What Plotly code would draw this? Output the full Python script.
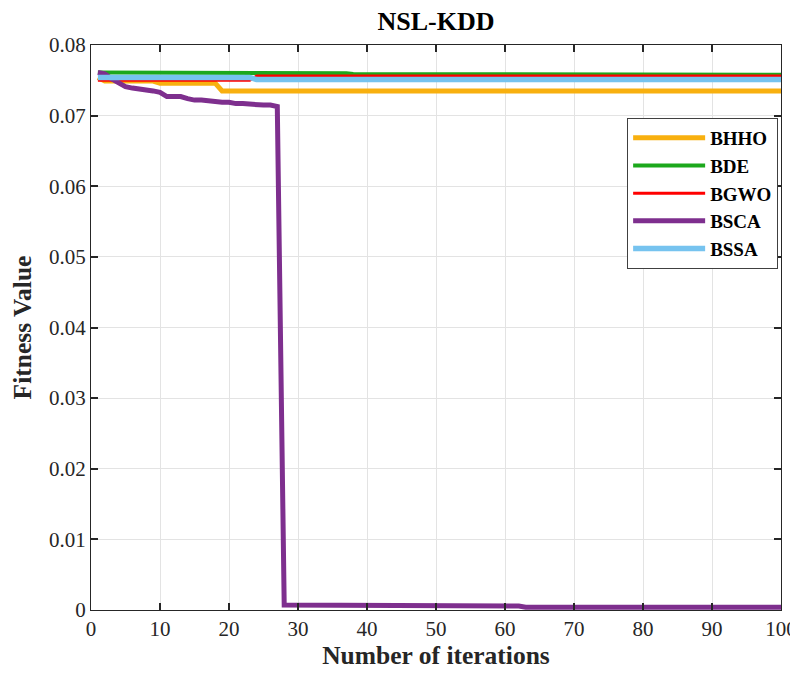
import plotly.graph_objects as go

iterations = list(range(1, 101))

bhho = [0.0754, 0.0749, 0.0749, 0.0749, 0.0749, 0.0749, 0.0749, 0.0749, 0.0749, 0.0746,
        0.0746, 0.0746, 0.0746, 0.0746, 0.0746, 0.0746, 0.0746, 0.0746, 0.0735, 0.0735,
        0.0735, 0.0735, 0.0735, 0.0735, 0.0735, 0.0735, 0.0735, 0.0735, 0.0735, 0.0735,
        0.0735, 0.0735, 0.0735, 0.0735, 0.0735, 0.0735, 0.0735, 0.0735, 0.0735, 0.0735,
        0.0735, 0.0735, 0.0735, 0.0735, 0.0735, 0.0735, 0.0735, 0.0735, 0.0735, 0.0735,
        0.0735, 0.0735, 0.0735, 0.0735, 0.0735, 0.0735, 0.0735, 0.0735, 0.0735, 0.0735,
        0.0735, 0.0735, 0.0735, 0.0735, 0.0735, 0.0735, 0.0735, 0.0735, 0.0735, 0.0735,
        0.0735, 0.0735, 0.0735, 0.0735, 0.0735, 0.0735, 0.0735, 0.0735, 0.0735, 0.0735,
        0.0735, 0.0735, 0.0735, 0.0735, 0.0735, 0.0735, 0.0735, 0.0735, 0.0735, 0.0735,
        0.0735, 0.0735, 0.0735, 0.0735, 0.0735, 0.0735, 0.0735, 0.0735, 0.0735, 0.0735]

bde = [0.0761, 0.0761, 0.0761, 0.0761, 0.0761, 0.0761, 0.0761, 0.0761, 0.0761, 0.0760,
       0.0760, 0.0760, 0.0760, 0.0760, 0.0760, 0.0760, 0.0760, 0.0760, 0.0760, 0.0760,
       0.0760, 0.0760, 0.0760, 0.0760, 0.0760, 0.0760, 0.0760, 0.0760, 0.0760, 0.0760,
       0.0760, 0.0760, 0.0760, 0.0760, 0.0760, 0.0760, 0.0760, 0.0759, 0.0759, 0.0759,
       0.0759, 0.0759, 0.0759, 0.0759, 0.0759, 0.0759, 0.0759, 0.0759, 0.0759, 0.0759,
       0.0759, 0.0759, 0.0759, 0.0759, 0.0759, 0.0758, 0.0758, 0.0758, 0.0758, 0.0758,
       0.0758, 0.0758, 0.0758, 0.0758, 0.0758, 0.0758, 0.0758, 0.0758, 0.0758, 0.0758,
       0.0758, 0.0758, 0.0758, 0.0758, 0.0758, 0.0758, 0.0758, 0.0758, 0.0758, 0.0758,
       0.0758, 0.0758, 0.0758, 0.0758, 0.0758, 0.0758, 0.0758, 0.0758, 0.0758, 0.0758,
       0.0758, 0.0758, 0.0758, 0.0758, 0.0758, 0.0758, 0.0758, 0.0758, 0.0758, 0.0758]

bgwo = [0.0750, 0.0750, 0.0750, 0.0750, 0.0750, 0.0750, 0.0750, 0.0750, 0.0750, 0.0750,
        0.0750, 0.0750, 0.0750, 0.0750, 0.0750, 0.0750, 0.0750, 0.0750, 0.0750, 0.0750,
        0.0750, 0.0750, 0.0750, 0.0756, 0.0756, 0.0756, 0.0756, 0.0756, 0.0756, 0.0756,
        0.0756, 0.0756, 0.0756, 0.0756, 0.0756, 0.0756, 0.0756, 0.0756, 0.0756, 0.0756,
        0.0756, 0.0756, 0.0756, 0.0756, 0.0756, 0.0756, 0.0756, 0.0756, 0.0756, 0.0756,
        0.0756, 0.0756, 0.0756, 0.0756, 0.0756, 0.0756, 0.0756, 0.0756, 0.0756, 0.0756,
        0.0756, 0.0756, 0.0756, 0.0756, 0.0756, 0.0756, 0.0756, 0.0756, 0.0756, 0.0756,
        0.0756, 0.0756, 0.0756, 0.0756, 0.0756, 0.0756, 0.0756, 0.0756, 0.0756, 0.0756,
        0.0756, 0.0756, 0.0756, 0.0756, 0.0756, 0.0756, 0.0756, 0.0756, 0.0756, 0.0756,
        0.0756, 0.0756, 0.0756, 0.0756, 0.0756, 0.0756, 0.0756, 0.0756, 0.0756, 0.0756]

bsca = [0.0761, 0.0759, 0.0752, 0.0746, 0.0741, 0.0739, 0.0738, 0.0736, 0.0735, 0.0733,
        0.0727, 0.0727, 0.0727, 0.0724, 0.0722, 0.0722, 0.0721, 0.0719, 0.0719, 0.0719,
        0.0717, 0.0717, 0.0716, 0.0715, 0.0715, 0.0715, 0.0713, 0.0007, 0.0007, 0.0007,
        0.0007, 0.0007, 0.0007, 0.0007, 0.0007, 0.0007, 0.0007, 0.0007, 0.0007, 0.0007,
        0.0007, 0.0007, 0.00055, 0.00055, 0.00055, 0.00055, 0.00055, 0.00055, 0.00055, 0.00055,
        0.00055, 0.00055, 0.00055, 0.00055, 0.00055, 0.00055, 0.00055, 0.00055, 0.00055, 0.00055,
        0.00055, 0.00055, 0.0004, 0.0004, 0.0004, 0.0004, 0.0004, 0.0004, 0.0004, 0.0004,
        0.0004, 0.0004, 0.0004, 0.0004, 0.0004, 0.0004, 0.0004, 0.0004, 0.0004, 0.0004,
        0.0004, 0.0004, 0.0004, 0.0004, 0.0004, 0.0004, 0.0004, 0.0004, 0.0004, 0.0004,
        0.0004, 0.0004, 0.0004, 0.0004, 0.0004, 0.0004, 0.0004, 0.0004, 0.0004, 0.0004]

bssa = [0.0754, 0.0754, 0.0754, 0.0754, 0.0754, 0.0754, 0.0754, 0.0754, 0.0754, 0.0754,
        0.0754, 0.0754, 0.0754, 0.0754, 0.0754, 0.0754, 0.0754, 0.0754, 0.0754, 0.0754,
        0.0754, 0.0754, 0.0754, 0.0751, 0.0751, 0.0751, 0.0751, 0.0751, 0.0751, 0.0751,
        0.0751, 0.0751, 0.0751, 0.0751, 0.0751, 0.0751, 0.0751, 0.0751, 0.0751, 0.0751,
        0.0751, 0.0751, 0.0751, 0.0751, 0.0751, 0.0751, 0.0751, 0.0751, 0.0751, 0.0751,
        0.0751, 0.0751, 0.0751, 0.0751, 0.0751, 0.0751, 0.0751, 0.0751, 0.0751, 0.0751,
        0.0751, 0.0751, 0.0751, 0.0751, 0.0751, 0.0751, 0.0751, 0.0751, 0.0751, 0.0751,
        0.0751, 0.0751, 0.0751, 0.0751, 0.0751, 0.0751, 0.0751, 0.0751, 0.0751, 0.0751,
        0.0751, 0.0751, 0.0751, 0.0751, 0.0751, 0.0751, 0.0751, 0.0751, 0.0751, 0.0751,
        0.0751, 0.0751, 0.0751, 0.0751, 0.0751, 0.0751, 0.0751, 0.0751, 0.0751, 0.0751]

series_names = ["BHHO", "BDE", "BGWO", "BSCA", "BSSA"]
series_values = [bhho, bde, bgwo, bsca, bssa]
series_colors = ["#F8B00F", "#1CA81C", "#FF0000", "#7E2F8E", "#76C3EF"]
series_widths = [5, 4, 3, 5, 5.5]

x_ticks = [0, 10, 20, 30, 40, 50, 60, 70, 80, 90, 100]
y_ticks = [0, 0.01, 0.02, 0.03, 0.04, 0.05, 0.06, 0.07, 0.08]
y_tick_labels = ["0", "0.01", "0.02", "0.03", "0.04", "0.05", "0.06", "0.07", "0.08"]

SERIF = "Liberation Serif, Times New Roman, serif"

fig = go.Figure()
for name, vals, col, w in zip(series_names, series_values, series_colors, series_widths):
    fig.add_trace(go.Scatter(
        x=iterations, y=vals, mode="lines", name="<b>" + name + "</b>", legendgroup=name,
        line=dict(color=col, width=w),
    ))

axis_common = dict(
    automargin=False, ticklabeloverflow="allow",
    showline=True, linecolor="#262626", linewidth=1, mirror="allticks",
    ticks="inside", ticklen=7, tickwidth=1.5, tickcolor="#262626",
    showgrid=True, gridcolor="#E3E3E3", gridwidth=1, zeroline=False,
    tickfont=dict(family=SERIF, size=21, color="#262626"),
)

H = 662
fig.update_layout(
    width=790, height=H,
    margin=dict(l=83, r=17, t=37, b=60, autoexpand=False),
    paper_bgcolor="white", plot_bgcolor="white",
    title=dict(text="<b>NSL-KDD</b>", x=0.5418, xanchor="center", y=1 - 13 / H, yanchor="middle",
               font=dict(family=SERIF, size=26, color="black")),
    xaxis=dict(range=[0, 100], tickvals=x_ticks,
               title=dict(text="<b>Number of iterations</b>", standoff=11,
                          font=dict(family=SERIF, size=25.5, color="#262626")),
               **axis_common),
    yaxis=dict(range=[0, 0.08], tickvals=y_ticks, ticktext=y_tick_labels,
               title=dict(text="<b>Fitness Value</b>", standoff=12,
                          font=dict(family=SERIF, size=25.5, color="#262626")),
               **axis_common),
    showlegend=True,
    legend=dict(x=0.777, y=0.871, xanchor="left", yanchor="top",
                bgcolor="white", bordercolor="#404040", borderwidth=1,
                font=dict(family=SERIF, size=19, color="black"),
                itemwidth=72, traceorder="grouped", tracegroupgap=0),
)

fig.write_html("out.html")
